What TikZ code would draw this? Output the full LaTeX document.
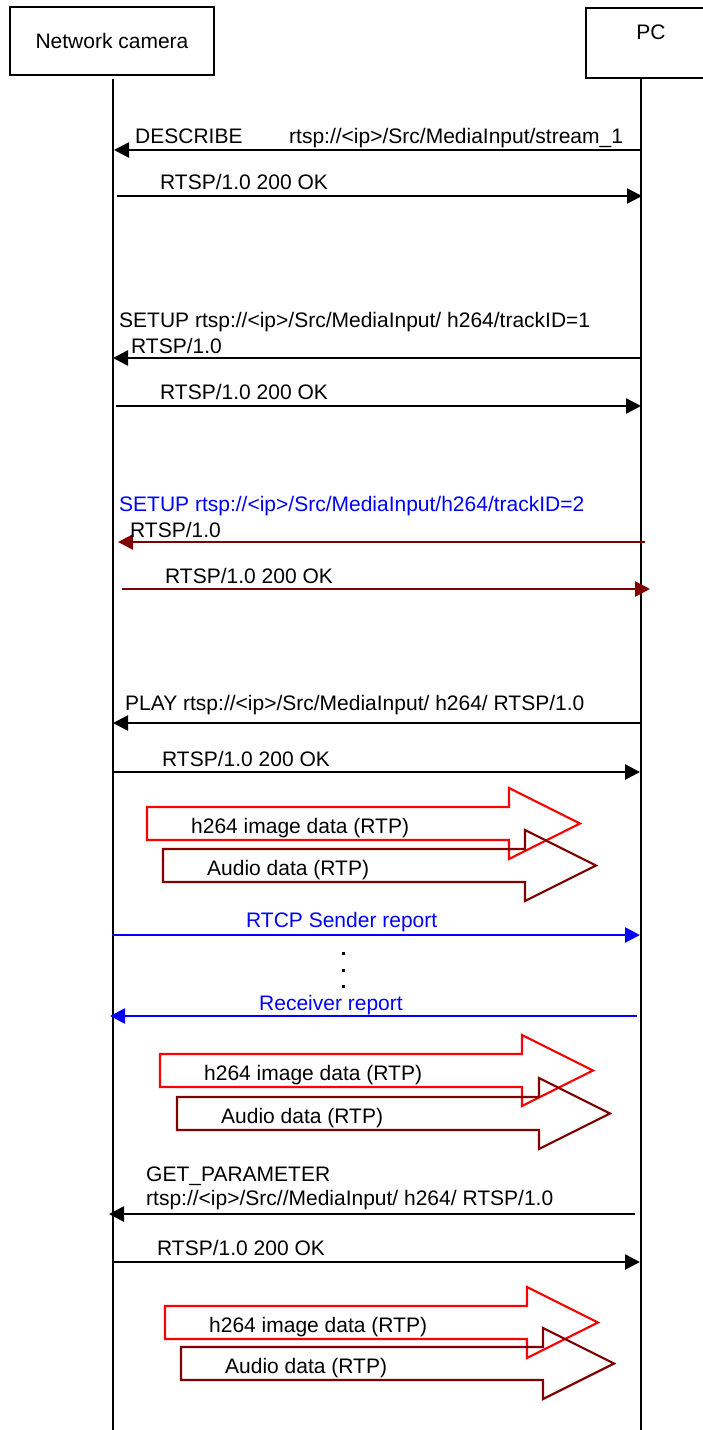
\documentclass[tikz,border=0pt]{standalone}
\usepackage{fontspec}
\setmainfont{Liberation Sans}
\usepackage{tikz}
\usetikzlibrary{arrows.meta,positioning,calc}
\definecolor{darkred}{RGB}{128,0,0}
\definecolor{msgblue}{RGB}{0,0,255}
\tikzset{
    actor/.style={draw, line width=2.2pt, inner sep=0pt},
    lifeline/.style={line width=2.2pt},
    msg/.style={-{Triangle[length=15pt, width=15pt]}, line width=2.6pt},
    lbl/.style={anchor=base west, inner sep=0pt},
    rtpblock/.style={line width=2.2pt}
}

\begin{document}
\begin{tikzpicture}[x=1pt, y=-1pt, font=\fontsize{21}{25}\selectfont]
                \useasboundingbox (0,0) rectangle (703,1430);
                % participants
                \node[actor, minimum width=204, minimum height=68] (cam) at (112,41) {Network camera};
                \node[actor, minimum width=120, minimum height=70, anchor=north west] (pc) at (585,7) {};
                \node[anchor=base] (pclabel) at (651,39) {PC};
                \coordinate (camtop) at (113,79);
                \coordinate (cambot) at (113,1430);
                \coordinate (pcbot) at (641,1430);
                \draw[lifeline] (camtop) -- (cambot);
                \draw[lifeline] (pc.south -| pcbot) -- (pcbot);

                % messages
                \foreach \i/\y/\s/\e/\c in {1/150/640/114/black, 2/196/117/642/black,
                    3/358/640/113/black, 4/406/116/641/black,
                    5/542/645/118/darkred, 6/589/122/650/darkred,
                    7/723/640/113/black, 8/772/113/640/black,
                    9/935/113/640/msgblue, 10/1016/637/110/msgblue,
                    11/1214/635/109/black, 12/1262/112/640/black}{
                    \coordinate (s\i) at (\s,\y);
                    \coordinate (e\i) at (\e,\y);
                    \draw[msg, \c] (s\i) -- (e\i);
                }

                % message texts
                \node[lbl] (describe) at (135,143) {DESCRIBE};
                \node[lbl] (describeurl) at (289,143) {rtsp://<ip>/Src/MediaInput/stream\_1};
                \node[lbl] (ok1) at (160,189) {RTSP/1.0 200 OK};
                \node[lbl] (setup1) at (119,327) {SETUP rtsp://<ip>/Src/MediaInput/ h264/trackID=1};
                \node[lbl] (ver1) at (131,353) {RTSP/1.0};
                \node[lbl] (ok2) at (160,399) {RTSP/1.0 200 OK};
                \node[lbl, text=msgblue] (setup2) at (119,511) {SETUP rtsp://<ip>/Src/MediaInput/h264/trackID=2};
                \node[lbl] (ver2) at (130,537) {RTSP/1.0};
                \node[lbl] (ok3) at (165,583) {RTSP/1.0 200 OK};
                \node[lbl] (play) at (125,710) {PLAY rtsp://<ip>/Src/MediaInput/ h264/ RTSP/1.0};
                \node[lbl] (ok4) at (162,766) {RTSP/1.0 200 OK};
                \node[lbl, text=msgblue] (sender) at (246,927) {RTCP Sender report};
                \node[lbl, text=msgblue] (receiver) at (259,1010) {Receiver report};
                \node[lbl] (getparam) at (146,1181) {GET\_PARAMETER};
                \node[lbl] (getparamurl) at (146,1205) {rtsp://<ip>/Src//MediaInput/ h264/ RTSP/1.0};
                \node[lbl] (ok5) at (157,1255) {RTSP/1.0 200 OK};

                % dots
                \foreach \y in {953,970,986}
                    \fill (341.5,\y-1.5) rectangle ++(3.2,3.2);

                % RTP data streams
                \foreach \i/\rx/\ry/\dx/\dy in {1/147/807/163/849, 2/160/1054/177/1097, 3/165/1306/181/1347}{
                    \draw[rtpblock, red] (\rx,\ry) -- ++(362,0) -- ++(0,-19) -- ++(71,35.5)
                        -- ++(-71,35.5) -- ++(0,-19) -- ++(-362,0) -- cycle;
                    \draw[rtpblock, darkred] (\dx,\dy) -- ++(362,0) -- ++(0,-19) -- ++(71,35.5)
                        -- ++(-71,35.5) -- ++(0,-19) -- ++(-362,0) -- cycle;
                    \node[lbl] (image\i) at (\rx+44,\ry+26) {h264 image data (RTP)};
                    \node[lbl] (audio\i) at (\dx+44,\dy+26) {Audio data (RTP)};
                }
            \end{tikzpicture}
\end{document}
